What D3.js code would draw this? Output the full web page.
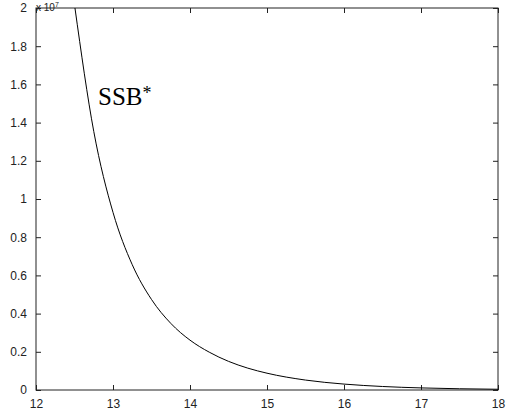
<!DOCTYPE html>
<html>
<head>
<meta charset="utf-8">
<script src="https://cdn.jsdelivr.net/npm/d3@7"></script>
<style>
  body { margin: 0; background: #fff; }
  svg text { font-family: Arial, "Liberation Sans", sans-serif; }
</style>
</head>
<body>
<svg id="chart" width="512" height="413"></svg>
<script>
// curve (x, SSB in units of 1e7)
const xs = [12.506, 12.75, 13.0, 13.25, 13.5, 13.75, 14.0, 14.25, 14.5, 14.75, 15.0, 15.5, 16.0, 16.5, 17.0, 17.5, 18.0];
const ys = [2.0, 1.354, 0.93, 0.656, 0.474, 0.349, 0.261, 0.198, 0.15, 0.1145, 0.088, 0.052, 0.031, 0.0184, 0.0109, 0.0065, 0.0039];
const xTicks = [12, 13, 14, 15, 16, 17, 18];
const yTicks = [0, 0.2, 0.4, 0.6, 0.8, 1, 1.2, 1.4, 1.6, 1.8, 2];

const svg = d3.select('#chart');
const margin = { left: 36, top: 8, right: 14, bottom: 23 };
const width = 512, height = 413;

const x = d3.scaleLinear().domain([12, 18]).range([margin.left, width - margin.right]);
const y = d3.scaleLinear().domain([0, 2]).range([height - margin.bottom, margin.top]);

const tickLen = 5;

// bottom axis
svg.append('g')
  .attr('transform', `translate(0,${y(0)})`)
  .call(d3.axisBottom(x).tickValues(xTicks).tickSizeInner(-tickLen).tickSizeOuter(0).tickPadding(9).tickFormat(d3.format('d')))
  .call(g => g.select('.domain').remove());

// top ticks
svg.append('g')
  .attr('transform', `translate(0,${y(2)})`)
  .call(d3.axisTop(x).tickValues(xTicks).tickSizeInner(-tickLen).tickSizeOuter(0).tickFormat(''))
  .call(g => g.select('.domain').remove());

// left axis
svg.append('g')
  .attr('transform', `translate(${x(12)},0)`)
  .call(d3.axisLeft(y).tickValues(yTicks).tickSizeInner(-tickLen).tickSizeOuter(0).tickPadding(9).tickFormat(d => d3.format('')(+d.toFixed(1))))
  .call(g => g.select('.domain').remove());

// right ticks
svg.append('g')
  .attr('transform', `translate(${x(18)},0)`)
  .call(d3.axisRight(y).tickValues(yTicks).tickSizeInner(-tickLen).tickSizeOuter(0).tickFormat(''))
  .call(g => g.select('.domain').remove());

svg.selectAll('.tick text').attr('font-size', 12).attr('fill', '#222');
svg.selectAll('.tick line').attr('stroke', '#222');

// box
svg.append('rect')
  .attr('x', x(12)).attr('y', y(2))
  .attr('width', x(18) - x(12)).attr('height', y(0) - y(2))
  .attr('fill', 'none').attr('stroke', '#222').attr('stroke-width', 1);

// exponent label
const ex = svg.append('text')
  .attr('x', x(12)).attr('y', 11)
  .attr('font-size', 10).attr('fill', '#222');
ex.append('tspan').text('x 10');
ex.append('tspan').attr('font-size', 7).attr('dy', -4).text('7');

// curve
const pts = xs.map((v, i) => [v, ys[i]]);
svg.append('path')
  .datum(pts)
  .attr('fill', 'none')
  .attr('stroke', '#000')
  .attr('stroke-width', 1)
  .attr('d', d3.line().x(d => x(d[0])).y(d => y(d[1])).curve(d3.curveMonotoneX));

// label
const lab = svg.append('text')
  .attr('x', 98).attr('y', 105)
  .style('font-family', '"Liberation Serif", "Times New Roman", serif')
  .attr('font-size', 25).attr('fill', '#000');
lab.append('tspan').text('SSB');
lab.append('tspan').attr('font-size', 18).attr('dy', -6).text('*');
</script>
</body>
</html>
